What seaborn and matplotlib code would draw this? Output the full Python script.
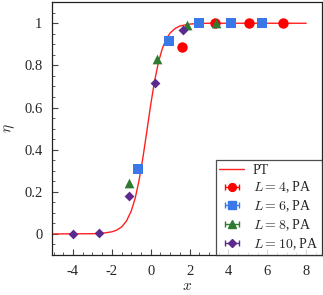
import numpy as np
import pandas as pd
import matplotlib
matplotlib.use("Agg")
import matplotlib.pyplot as plt
import seaborn as sns

# PT curve
pt_x = [-5, -3, -2.5, -2, -1.75, -1.5, -1.25, -1, -0.8, -0.6, -0.4, -0.2, 0,
        0.2, 0.4, 0.6, 0.8, 1.0, 1.25, 1.5, 2, 2.5, 3, 4, 8]
pt_y = [0.0, 0.001, 0.003, 0.01, 0.018, 0.033, 0.061, 0.109, 0.169, 0.254, 0.363,
        0.487, 0.614, 0.726, 0.816, 0.881, 0.925, 0.954, 0.975, 0.987, 0.996,
        0.999, 1.0, 1.0, 1.0]

# PA points
l4_x = [1.59, 3.32, 5.07, 6.8]
l4_y = [0.887, 1.0, 1.0, 1.0]
l6_x = [-0.65, 0.94, 2.5, 4.11, 5.72]
l6_y = [0.31, 0.915, 1.0, 1.0, 1.0]
l8_x = [-1.13, 0.34, 1.85, 3.36]
l8_y = [0.244, 0.828, 0.993, 1.0]
l10_x = [-4.0, -2.64, -1.14, 0.22, 1.68]
l10_y = [0.0, 0.006, 0.18, 0.715, 0.97]

series = [
    ("$L=4$, PA", l4_x, l4_y, "#ff0000", "o", 7.5),
    ("$L=6$, PA", l6_x, l6_y, "#3a78e8", "s", 7.5),
    ("$L=8$, PA", l8_x, l8_y, "#2e7a32", "^", 7),
    ("$L=10$, PA", l10_x, l10_y, "#5b2a8c", "D", 5),
]

sns.set_theme(style="ticks")
plt.rcParams["font.family"] = ["Liberation Serif", "DejaVu Serif"]
plt.rcParams["mathtext.fontset"] = "cm"
plt.rcParams["axes.unicode_minus"] = False

fig = plt.figure(figsize=(3.23, 2.95), dpi=100)
ax = fig.add_axes([0.161, 0.1356, 0.835, 0.857])

pt = pd.DataFrame({"x": pt_x, "y": pt_y})
sns.lineplot(data=pt, x="x", y="y", color="#ff2020", lw=1.0, ax=ax, label="PT")

handles = [ax.get_lines()[0]]
for label, xs, ys, col, mk, ms in series:
    df = pd.DataFrame({"x": xs, "y": ys})
    sns.scatterplot(data=df, x="x", y="y", color=col, marker=mk, s=ms ** 2,
                    linewidth=0, ax=ax, legend=False, zorder=3)
    h = ax.errorbar([np.nan], [np.nan], xerr=[1], fmt=mk, color=col, ms=ms * 0.75,
                    capsize=2, elinewidth=1, label=label)
    handles.append(h)

ax.set_xlim(-5.08, 8.8)
ax.set_ylim(-0.1, 1.1)
ax.set_xticks([-4, -2, 0, 2, 4, 6, 8])
ax.set_xticklabels(["-4", "-2", "0", "2", "4", "6", "8"])
ax.set_yticks([0, 0.2, 0.4, 0.6, 0.8, 1.0])
ax.set_yticklabels(["0", "0.2", "0.4", "0.6", "0.8", "1"])
ax.set_xticks(np.arange(-5, 9, 0.5), minor=True)
ax.set_yticks(np.arange(-0.1, 1.1, 0.05), minor=True)
ax.tick_params(which="major", direction="in", length=4, width=0.8, color="#444444",
               labelsize=10.5, pad=7)
ax.tick_params(which="minor", direction="in", length=2, width=0.6, color="#444444")
for s in ax.spines.values():
    s.set_color("#222222")
    s.set_linewidth(0.9)

ax.set_xlabel("$x$", fontsize=11, labelpad=2)
ax.set_ylabel(r"$\eta$", fontsize=11, labelpad=5)

leg = ax.legend(handles=handles, labels=["PT"] + [s[0] for s in series],
                loc="lower right", borderaxespad=0, fontsize=10, frameon=True,
                fancybox=False, edgecolor="#222222", handlelength=1.8,
                labelspacing=0.22, borderpad=0.25, handletextpad=0.6)
leg.get_frame().set_linewidth(0.9)

fig.savefig("out.png", dpi=100)
